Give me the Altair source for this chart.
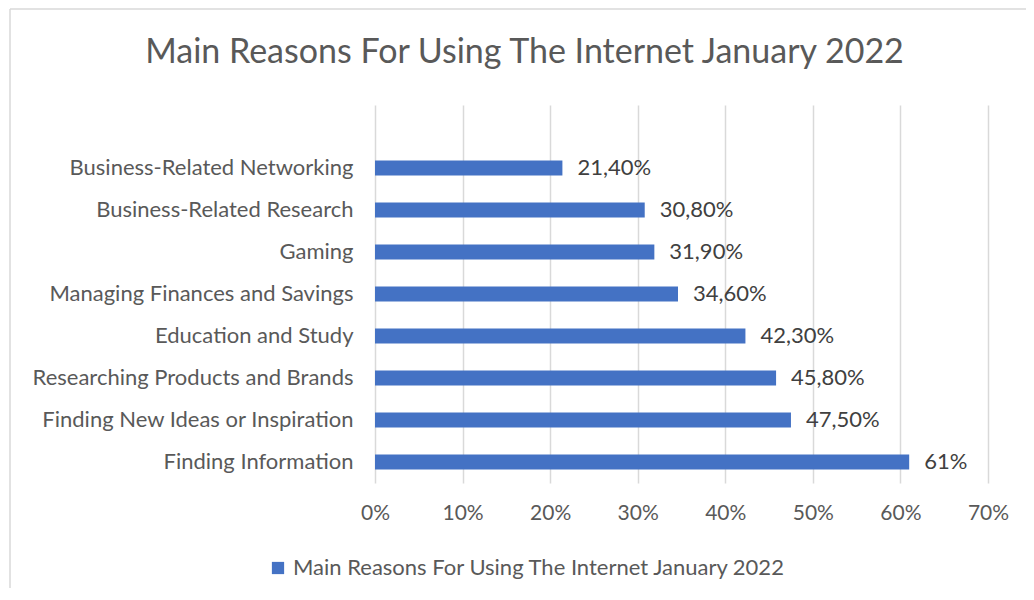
import altair as alt
import pandas as pd

categories = [
    "Business-Related Networking",
    "Business-Related Research",
    "Gaming",
    "Managing Finances and Savings",
    "Education and Study",
    "Researching Products and Brands",
    "Finding New Ideas or Inspiration",
    "Finding Information",
]
values = [21.4, 30.8, 31.9, 34.6, 42.3, 45.8, 47.5, 61.0]
labels = ["21,40%", "30,80%", "31,90%", "34,60%", "42,30%", "45,80%", "47,50%", "61%"]
series_name = "Main Reasons For Using The Internet January 2022"
x_ticks = [0, 10, 20, 30, 40, 50, 60, 70]

df = pd.DataFrame({"category": categories, "value": values, "label": labels,
                   "series": [series_name] * len(categories)})

FONT = "Lato"
domain = [" "] + categories

y = alt.Y("category:N", sort=domain,
          scale=alt.Scale(domain=domain, paddingInner=0, paddingOuter=0),
          axis=alt.Axis(title=None, ticks=False, domain=False, labelPadding=22,
                        labelFontSize=22, labelColor="#595959", labelFont=FONT,
                        grid=False, labelLimit=400))
x = alt.X("value:Q", scale=alt.Scale(domain=[0, 70], nice=False),
          axis=alt.Axis(title=None, values=x_ticks, labelExpr="datum.value + '%'",
                        ticks=False, domain=False, grid=True, gridColor="#d9d9d9",
                        gridWidth=1.5, labelPadding=19, labelFontSize=21,
                        labelFlush=False,
                        labelColor="#595959", labelFont=FONT))

bars = alt.Chart(df).mark_bar(size=15, color="#4472C4").encode(
    x=x, y=y,
    color=alt.Color("series:N", scale=alt.Scale(range=["#4472C4"]),
                    legend=alt.Legend(title=None, orient="none", legendX=-108, legendY=452,
                                      symbolType="square", symbolSize=150,
                                      labelFontSize=22, labelFont=FONT,
                                      labelColor="#595959", labelLimit=700,
                                      symbolStrokeWidth=0)),
)
text = alt.Chart(df).mark_text(align="left", baseline="middle", dx=15,
                               fontSize=22, font=FONT, color="#404040").encode(
    x="value:Q", y=alt.Y("category:N", sort=domain), text="label:N")

frame = alt.Data(values=[{}])
top_edge = alt.Chart(frame).mark_rule(color="#d9d9d9", strokeWidth=1.5).encode(
    x=alt.value(-365), x2=alt.value(651), y=alt.value(-96))
left_edge = alt.Chart(frame).mark_rule(color="#d9d9d9", strokeWidth=1.5).encode(
    x=alt.value(-365), y=alt.value(-96), y2=alt.value(500))

chart = alt.layer(top_edge, left_edge, bars, text).properties(
    width=613, height=378,
    padding={"left": 367, "top": 97, "right": 38, "bottom": 105},
    autosize=alt.AutoSizeParams(type="none"),
    title=alt.TitleParams(series_name, fontSize=34, font=FONT, color="#595959",
                          fontWeight="normal", anchor="middle", dx=-157,
                          baseline="bottom", offset=-96),
).configure_view(stroke=None)

chart.save("out.html", embed_options={"renderer": "svg", "actions": False})
